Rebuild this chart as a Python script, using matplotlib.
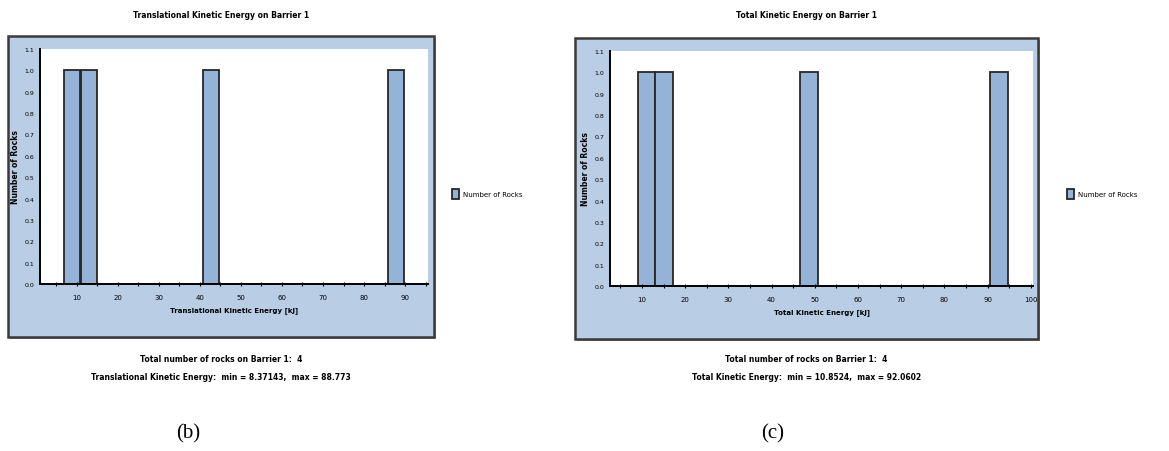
import matplotlib.pyplot as plt
from matplotlib.patches import Rectangle

# (b) translational kinetic energy histogram
trans_centers = [8.8, 12.95, 42.65, 87.85]
trans_counts = [1, 1, 1, 1]
trans_ticks = [10, 20, 30, 40, 50, 60, 70, 80, 90]

# (c) total kinetic energy histogram
total_centers = [11.05, 15.1, 48.6, 92.55]
total_counts = [1, 1, 1, 1]
total_ticks = [10, 20, 30, 40, 50, 60, 70, 80, 90, 100]

y_ticks = [0.0, 0.1, 0.2, 0.3, 0.4, 0.5, 0.6, 0.7, 0.8, 0.9, 1.0, 1.1]

W, H = 1169, 452
FRAME = '#b9cde5'
BAR = '#95b3d7'
EDGE = '#262626'

fig = plt.figure(figsize=(W / 100, H / 100), dpi=100)


def fx(px):
    return px / W


def fy(py):
    return 1 - py / H


def frame(x0, y0, x1, y1):
    # drop shadow then blue chart frame
    fig.patches.append(Rectangle((fx(x0 + 2), fy(y1 + 2)), fx(x1 - x0), (y1 - y0) / H,
                                 transform=fig.transFigure, facecolor='#9a9a9a',
                                 edgecolor='none', zorder=-2))
    fig.patches.append(Rectangle((fx(x0), fy(y1)), fx(x1 - x0), (y1 - y0) / H,
                                 transform=fig.transFigure, facecolor=FRAME,
                                 edgecolor='#3a3a3a', lw=1.8, zorder=-1))


def panel(box, centers, counts, width, xlim, ticks, title, xlabel, lines, tag, tag_x, legend_x):
    x0, y0, x1, y1 = box['frame']
    frame(x0, y0, x1, y1)
    ax0, ay0, ax1, ay1 = box['axes']
    ax = fig.add_axes([fx(ax0), fy(ay1), fx(ax1 - ax0), (ay1 - ay0) / H])
    ax.set_zorder(2)
    ax.set_facecolor('white')
    bars = ax.bar(centers, counts, width=width, color=BAR, edgecolor=EDGE, lw=1.3,
                  label='Number of Rocks')
    ax.set_xlim(*xlim)
    ax.set_ylim(0, 1.1)
    ax.set_xticks(ticks)
    ax.set_xticklabels([str(t) for t in ticks], fontsize=5)
    minor = [t - 5 for t in ticks]
    if ticks[-1] + 5 < xlim[1]:
        minor.append(ticks[-1] + 5)
    ax.set_xticks(minor, minor=True)
    ax.set_yticks(y_ticks)
    ax.set_yticklabels([f'{v:.1f}' for v in y_ticks], fontsize=4.5)
    ax.tick_params(axis='x', which='both', direction='inout', length=3, width=0.8, pad=6)
    ax.tick_params(axis='y', length=0, pad=4)
    for s in ['top', 'right']:
        ax.spines[s].set_visible(False)
    ax.spines['left'].set_linewidth(1.4)
    ax.spines['bottom'].set_linewidth(1.4)
    ax.set_xlabel(xlabel, fontsize=5, fontweight='bold', labelpad=4)
    ax.set_ylabel('Number of Rocks', fontsize=5.5, fontweight='bold', labelpad=3)

    cx = (x0 + x1) / 2
    fig.text(fx(cx), fy(16), title, ha='center', va='center', fontsize=5.5, fontweight='bold')
    fig.text(fx(cx), fy(360), lines[0], ha='center', va='center', fontsize=5.5, fontweight='bold')
    fig.text(fx(cx), fy(378), lines[1], ha='center', va='center', fontsize=5.5, fontweight='bold')
    fig.text(fx(tag_x), fy(434), tag, ha='center', va='center', fontsize=15,
             family='Liberation Serif')
    fig.legend(handles=[bars], labels=['Number of Rocks'], loc='center left',
               bbox_to_anchor=(fx(legend_x), fy(195)), frameon=False, fontsize=5,
               handlelength=1.0, handleheight=2.0, handletextpad=0.6)
    return ax


panel({'frame': (8, 37, 434, 338), 'axes': (40, 50, 428, 285)},
      trans_centers, trans_counts, 3.95, (1.0, 95.6), trans_ticks,
      'Translational Kinetic Energy on Barrier 1',
      'Translational Kinetic Energy [kJ]',
      ['Total number of rocks on Barrier 1:  4',
       'Translational Kinetic Energy:  min = 8.37143,  max = 88.773'],
      '(b)', 188, 446)

panel({'frame': (575, 39, 1038, 340), 'axes': (610, 52, 1033, 287)},
      total_centers, total_counts, 4.15, (2.6, 100.5), total_ticks,
      'Total Kinetic Energy on Barrier 1',
      'Total Kinetic Energy [kJ]',
      ['Total number of rocks on Barrier 1:  4',
       'Total Kinetic Energy:  min = 10.8524,  max = 92.0602'],
      '(c)', 773, 1061)

fig.savefig('out.png', dpi=100, facecolor='white')
